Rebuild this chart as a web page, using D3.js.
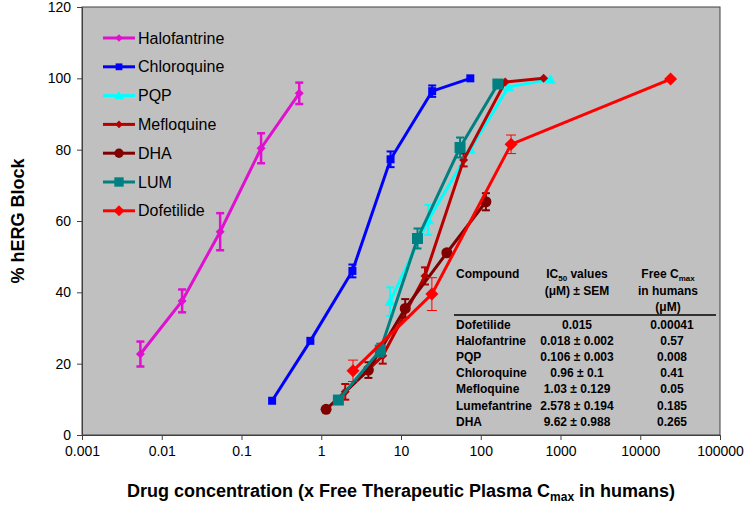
<!DOCTYPE html>
<html>
<head>
<meta charset="utf-8">
<script src="https://cdn.jsdelivr.net/npm/d3@7"></script>
<style>
  body { margin: 0; background: #fff; }
  svg { font-family: "Liberation Sans", Arial, sans-serif; }
</style>
</head>
<body>
<div id="chart"></div>
<script>
// ------------------
// Data
// ------------------
const xTicks = [0.001, 0.01, 0.1, 1, 10, 100, 1000, 10000, 100000];
const xTickLabels = ["0.001", "0.01", "0.1", "1", "10", "100", "1000", "10000", "100000"];
const yTicks = [0, 20, 40, 60, 80, 100, 120];

const halX = [0.0054, 0.018, 0.054, 0.176, 0.53];
const halY = [22.7, 37.6, 57.0, 80.4, 95.8];
const halErr = [3.5, 3.2, 5.2, 4.2, 3.0];

const chlX = [0.242, 0.73, 2.46, 7.4, 24.6, 74];
const chlY = [9.6, 26.4, 46.0, 77.3, 96.4, 100];
const chlErr = [0, 0, 1.8, 2.2, 1.6, 0];

const pqpX = [7.3, 22, 74, 223, 745];
const pqpY = [37.4, 60.3, 80.1, 97.6, 99.7];
const pqpErr = [4.0, 4.2, 0, 0, 0];

const mefX = [2.0, 5.9, 20, 61, 203, 614];
const mefY = [12.1, 22.2, 44.6, 77.1, 99.0, 100];
const mefErr = [2.2, 2.2, 2.4, 1.8, 0, 0];

const dhaX = [1.15, 3.9, 11.3, 37.6, 116];
const dhaY = [7.2, 18.2, 35.5, 51.1, 65.4];
const dhaErr = [0, 2.2, 2.6, 0, 2.4];

const lumX = [1.64, 5.5, 16.1, 55, 164];
const lumY = [9.8, 23.8, 55.1, 80.6, 98.4];
const lumErr = [0, 1.8, 2.8, 2.8, 0];

const dofX = [2.5, 24.4, 240, 24000];
const dofY = [18.0, 39.5, 81.5, 99.8];
const dofErr = [3.0, 4.6, 2.6, 0];

const tableHead = ["Compound", "IC50 values", "Free Cmax"];
const tableCompounds = ["Dofetilide", "Halofantrine", "PQP", "Chloroquine", "Mefloquine", "Lumefantrine", "DHA"];
const tableIC50 = ["0.015", "0.018 ± 0.002", "0.106 ± 0.003", "0.96 ± 0.1", "1.03 ± 0.129", "2.578 ± 0.194", "9.62 ± 0.988"];
const tableCmax = ["0.00041", "0.57", "0.008", "0.41", "0.05", "0.185", "0.265"];

// series list built from the arrays above
const series = [
  { name: "Halofantrine", x: halX, y: halY, err: halErr, color: "#e010d0", shape: "diamond", size: 9, errW: 2.5, cap: 8 },
  { name: "Chloroquine", x: chlX, y: chlY, err: chlErr, color: "#0000ff", shape: "square", size: 8, errW: 2, cap: 8 },
  { name: "PQP", x: pqpX, y: pqpY, err: pqpErr, color: "#00ffff", shape: "triangle", size: 11, errW: 2, cap: 8 },
  { name: "Mefloquine", x: mefX, y: mefY, err: mefErr, color: "#b80000", shape: "diamond", size: 9, errW: 2, cap: 8 },
  { name: "DHA", x: dhaX, y: dhaY, err: dhaErr, color: "#800000", shape: "circle", size: 11, errW: 2, cap: 8 },
  { name: "LUM", x: lumX, y: lumY, err: lumErr, color: "#008080", shape: "square", size: 11, errW: 2, cap: 8 },
  { name: "Dofetilide", x: dofX, y: dofY, err: dofErr, color: "#ff0000", shape: "diamond", size: 13, errW: 1, cap: 10 }
];

// ------------------
// Layout
// ------------------
const W = 750, H = 505;
const plotL = 82, plotR = 720, plotT = 7, plotB = 435;

const svg = d3.select("#chart").append("svg")
  .attr("width", W).attr("height", H);

const x = d3.scaleLog().domain([0.001, 100000]).range([plotL, plotR]);
const y = d3.scaleLinear().domain([0, 120]).range([plotB, plotT]);

// plot area
svg.append("rect")
  .attr("x", plotL).attr("y", plotT)
  .attr("width", plotR - plotL).attr("height", plotB - plotT)
  .attr("fill", "#c0c0c0")
  .attr("stroke", "#404040").attr("stroke-width", 1);

// axes
const yAxis = d3.axisLeft(y).tickValues(yTicks).tickSize(5).tickPadding(6);
const xAxis = d3.axisBottom(x).tickValues(xTicks)
  .tickFormat((d, i) => xTickLabels[i]).tickSize(5).tickPadding(6);

const gy = svg.append("g").attr("transform", `translate(${plotL},0)`).call(yAxis);
const gx = svg.append("g").attr("transform", `translate(0,${plotB})`).call(xAxis);
[gx, gy].forEach(g => {
  g.select(".domain").attr("stroke", "#404040");
  g.selectAll(".tick line").attr("stroke", "#404040");
  g.selectAll(".tick text")
    .attr("fill", "#000")
    .style("font-size", "14px")
    .style("font-family", "'Liberation Sans', Arial, sans-serif");
});

// axis titles
svg.append("text")
  .attr("transform", `translate(24,${(plotT + plotB) / 2}) rotate(-90)`)
  .attr("text-anchor", "middle")
  .style("font-size", "18px").style("font-weight", "bold")
  .text("% hERG Block");

const xt = svg.append("text")
  .attr("x", 401).attr("y", 497)
  .attr("text-anchor", "middle")
  .style("font-size", "18px").style("font-weight", "bold");
xt.append("tspan").text("Drug concentration (x Free Therapeutic Plasma C");
xt.append("tspan").attr("dy", 4).style("font-size", "12px").text("max");
xt.append("tspan").attr("dy", -4).text(" in humans)");

// ------------------
// Markers
// ------------------
function markerPath(shape, size) {
  const h = size / 2;
  if (shape === "diamond") return `M0,${-h}L${h},0L0,${h}L${-h},0Z`;
  if (shape === "square") return `M${-h},${-h}H${h}V${h}H${-h}Z`;
  if (shape === "triangle") return `M0,${-h}L${h},${h * 0.8}L${-h},${h * 0.8}Z`;
  return d3.symbol(d3.symbolCircle, Math.PI * h * h)();
}

// ------------------
// Series
// ------------------
const line = d3.line().x(d => x(d[0])).y(d => y(d[1]));

series.forEach(s => {
  const pts = s.x.map((v, i) => [v, s.y[i], s.err[i]]);
  const g = svg.append("g");

  g.append("path")
    .attr("d", line(pts))
    .attr("fill", "none")
    .attr("stroke", s.color)
    .attr("stroke-width", 3);

  // error bars
  pts.filter(p => p[2] > 0).forEach(p => {
    const cx = x(p[0]);
    const y1 = y(p[1] - p[2]), y2 = y(p[1] + p[2]);
    g.append("line").attr("x1", cx).attr("x2", cx).attr("y1", y1).attr("y2", y2)
      .attr("stroke", s.color).attr("stroke-width", s.errW);
    [y1, y2].forEach(yy => {
      g.append("line").attr("x1", cx - s.cap / 2).attr("x2", cx + s.cap / 2)
        .attr("y1", yy).attr("y2", yy)
        .attr("stroke", s.color).attr("stroke-width", s.errW);
    });
  });

  g.selectAll("path.mk").data(pts).enter()
    .append("path")
    .attr("class", "mk")
    .attr("transform", d => `translate(${x(d[0])},${y(d[1])})`)
    .attr("d", markerPath(s.shape, s.size))
    .attr("fill", s.color);
});

// ------------------
// Legend
// ------------------
const legendTop = 38, legendStep = 28.8;
series.forEach((s, i) => {
  const ly = legendTop + i * legendStep;
  svg.append("line")
    .attr("x1", 103).attr("x2", 135).attr("y1", ly).attr("y2", ly)
    .attr("stroke", s.color).attr("stroke-width", 3);
  svg.append("path")
    .attr("transform", `translate(119,${ly})`)
    .attr("d", markerPath(s.shape, s.size * 0.85))
    .attr("fill", s.color);
  svg.append("text")
    .attr("x", 138).attr("y", ly + 5.5)
    .style("font-size", "16px")
    .text(s.name);
});

// ------------------
// Table
// ------------------
const tbl = svg.append("g").style("font-size", "12px").style("font-weight", "bold");
const colC = 456, colIC = 577, colF = 672;

tbl.append("text").attr("x", colC).attr("y", 278).text(tableHead[0]);

const h1 = tbl.append("text").attr("x", colIC).attr("y", 278).attr("text-anchor", "middle");
h1.append("tspan").text("IC");
h1.append("tspan").attr("dy", 3).style("font-size", "8px").text("50");
h1.append("tspan").attr("dy", -3).text(" values");
tbl.append("text").attr("x", colIC).attr("y", 295).attr("text-anchor", "middle").text("(μM) ± SEM");

const h2 = tbl.append("text").attr("x", colF - 4).attr("y", 278).attr("text-anchor", "middle");
h2.append("tspan").text("Free C");
h2.append("tspan").attr("dy", 3).style("font-size", "8px").text("max");
tbl.append("text").attr("x", colF - 4).attr("y", 295).attr("text-anchor", "middle").text("in humans");
tbl.append("text").attr("x", colF - 4).attr("y", 311).attr("text-anchor", "middle").text("(μM)");

tbl.append("line").attr("x1", 454).attr("x2", 716).attr("y1", 315).attr("y2", 315)
  .attr("stroke", "#000").attr("stroke-width", 1.5);

tableCompounds.forEach((c, i) => {
  const ry = 328.5 + i * 16.2;
  tbl.append("text").attr("x", colC).attr("y", ry).text(c);
  tbl.append("text").attr("x", colIC).attr("y", ry).attr("text-anchor", "middle").text(tableIC50[i]);
  tbl.append("text").attr("x", colF).attr("y", ry).attr("text-anchor", "middle").text(tableCmax[i]);
});
</script>
</body>
</html>
